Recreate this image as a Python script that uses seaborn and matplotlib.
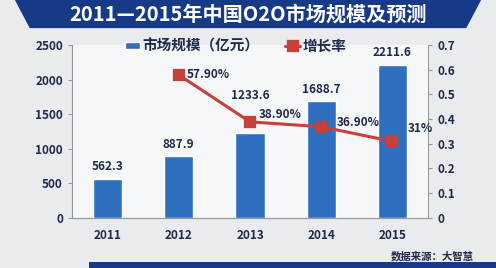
import matplotlib
matplotlib.use("Agg")
import matplotlib.pyplot as plt
import seaborn as sns
import pandas as pd
import numpy as np
from matplotlib.patches import Polygon, Rectangle

years = ["2011", "2012", "2013", "2014", "2015"]
market = [562.3, 887.9, 1233.6, 1688.7, 2211.6]
market_labels = ["562.3", "887.9", "1233.6", "1688.7", "2211.6"]
rate_years = ["2012", "2013", "2014", "2015"]
rate = [0.579, 0.389, 0.369, 0.31]
rate_labels = ["57.90%", "38.90%", "36.90%", "31%"]
left_ticks = [0, 500, 1000, 1500, 2000, 2500]
right_ticks = [0, 0.1, 0.2, 0.3, 0.4, 0.5, 0.6, 0.7]
right_tick_labels = ["0", "0.1", "0.2", "0.3", "0.4", "0.5", "0.6", "0.7"]
title = "2011—2015年中国O2O市场规模及预测"
legend_bar = "市场规模（亿元）"
legend_line = "增长率"
source = "数据来源：大智慧"

sns.set_style("white")
plt.rcParams["font.family"] = ["Noto Sans CJK SC", "DejaVu Sans"]

navy = "#1e2a4a"
bar_color = "#2f6fc0"
line_color = "#c8403a"

# label offsets (points) for readability
bar_label_dy = [0, 0, 18, 0, 0]
rate_label_dx = [6, 6, 11, 11]
rate_label_dy = [0, 5, 3, 9]

fig = plt.figure(figsize=(4.96, 2.68), dpi=100, facecolor="#e9ebee")
fig.patches.append(Polygon([[0.03, 1.0], [0.97, 1.0], [0.94, 0.895], [0.06, 0.895]],
                           closed=True, transform=fig.transFigure, facecolor="#173a86",
                           edgecolor="none", zorder=0))
fig.text(0.5, 0.948, title, ha="center", va="center", color="white", fontsize=14.5,
         fontweight="bold")
fig.patches.append(Rectangle((0.18, 0.0), 0.82, 0.022, transform=fig.transFigure,
                             facecolor="#173a86", edgecolor="none", zorder=0))

ax = fig.add_axes([0.145, 0.187, 0.718, 0.645])
ax.set_facecolor("#f6f7f9")
df = pd.DataFrame({"year": years, "market": market})
sns.barplot(data=df, x="year", y="market", order=years, color=bar_color, width=0.41,
            saturation=1, ax=ax, label=legend_bar)
ax.set_ylim(0, 2500)
ax.set_yticks(left_ticks)
ax.set_yticklabels([str(t) for t in left_ticks])
ax.set_xlabel("")
ax.set_ylabel("")
for i, (v, lab, dy) in enumerate(zip(market, market_labels, bar_label_dy)):
    ax.annotate(lab, (i, v), xytext=(0, 4 + dy), textcoords="offset points",
                ha="center", va="bottom", fontsize=8.5, fontweight="bold", color=navy)

ax2 = ax.twinx()
rdf = pd.DataFrame({"year": rate_years, "rate": rate})
sns.pointplot(data=rdf, x="year", y="rate", order=years, color=line_color, markers="s",
              markersize=7, linewidth=2.2, ax=ax2, label=legend_line)
ax2.set_ylim(0, 0.7)
ax2.set_yticks(right_ticks)
ax2.set_yticklabels(right_tick_labels)
ax2.set_ylabel("")
ax2.set_xlabel("")
for yr, v, lab, dx, dy in zip(rate_years, rate, rate_labels, rate_label_dx, rate_label_dy):
    i = years.index(yr)
    ax2.annotate(lab, (i, v), xytext=(dx, dy), textcoords="offset points",
                 ha="left", va="center", fontsize=8.5, fontweight="bold", color=navy)

for a in (ax, ax2):
    a.spines["top"].set_visible(False)
    for s in ("left", "right", "bottom"):
        a.spines[s].set_color("#9a9a9a")
        a.spines[s].set_linewidth(0.8)
    a.tick_params(axis="both", colors="#9a9a9a", length=3, width=0.8, labelsize=8.5,
                  labelcolor=navy)
for lab in ax.get_xticklabels() + ax.get_yticklabels() + ax2.get_yticklabels():
    lab.set_fontweight("bold")
ax.tick_params(axis="x", length=0, pad=8)
ax.set_xticks(np.arange(-0.5, 5.0, 1.0), minor=True)
ax.tick_params(axis="x", which="minor", length=3, color="#9a9a9a")
ax2.spines["left"].set_visible(False)
ax.spines["right"].set_visible(False)

h1, l1 = ax.get_legend_handles_labels()
h2, l2 = ax2.get_legend_handles_labels()
leg = ax2.legend(h1 + h2, l1 + l2, loc="center", bbox_to_anchor=(0.46, 0.995), ncol=2,
                 frameon=False, fontsize=10.5, columnspacing=1.8, handlelength=1.0,
                 handleheight=0.4, handletextpad=0.15)
for t in leg.get_texts():
    t.set_fontweight("bold")
    t.set_color(navy)
if ax.get_legend() is not None:
    ax.get_legend().remove()

fig.text(0.955, 0.045, source, ha="right", va="center", fontsize=7.5, fontweight="bold",
         color=navy)

fig.savefig("out.png", dpi=100, facecolor=fig.get_facecolor())
